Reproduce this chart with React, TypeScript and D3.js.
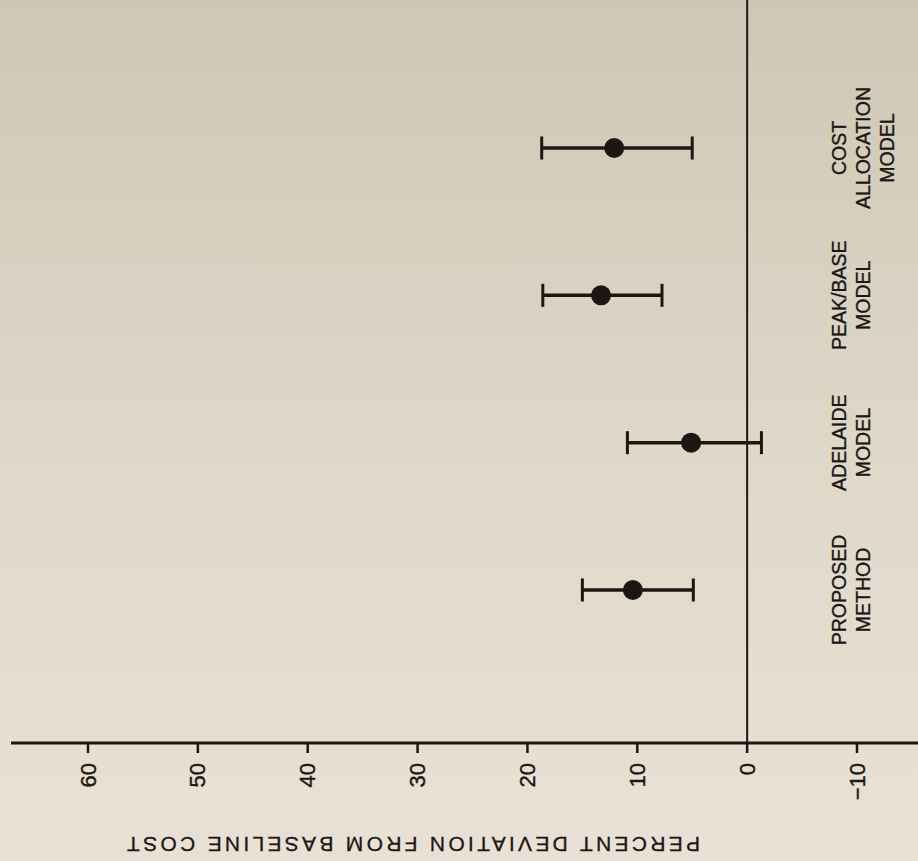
import { useEffect, useRef } from "react";
import * as d3 from "d3";

// categories top to bottom, each label split into lines
const CATEGORIES = ["COST ALLOCATION MODEL", "PEAK/BASE MODEL", "ADELAIDE MODEL", "PROPOSED METHOD"];
const LABEL_LINES = [["COST", "ALLOCATION", "MODEL"], ["PEAK/BASE", "MODEL"], ["ADELAIDE", "MODEL"], ["PROPOSED", "METHOD"]];
const MEANS = [12.1, 13.3, 5.1, 10.4];
const LOWS = [5.0, 7.75, -1.3, 4.9];
const HIGHS = [18.7, 18.6, 10.9, 15.0];
const TICKS = [60, 50, 40, 30, 20, 10, 0, -10];
const TITLE = "PERCENT DEVIATION FROM BASELINE COST";

const W = 918;
const H = 861;
const INK = "#1b1814";
const FONT = "'Liberation Sans', Arial, Helvetica, sans-serif";

export default function App() {
  const svgRef = useRef<SVGSVGElement>(null);

  useEffect(() => {
    if (!svgRef.current) return;
    const svg = d3.select(svgRef.current);
    svg.selectAll("*").remove();

    const axisY = 743;
    const x = d3.scaleLinear().domain([60, -10]).range([88, 857]);
    const y = d3.scalePoint().domain(CATEGORIES).range([148, 590]);

    const defs = svg.append("defs");
    const grad = defs.append("linearGradient").attr("id", "bg").attr("x1", 0).attr("y1", 0).attr("x2", 0).attr("y2", 1);
    grad.append("stop").attr("offset", "0%").attr("stop-color", "#cec7b5");
    grad.append("stop").attr("offset", "55%").attr("stop-color", "#e0d9ca");
    grad.append("stop").attr("offset", "100%").attr("stop-color", "#e9e1d5");
    svg.append("rect").attr("width", W).attr("height", H).attr("fill", "url(#bg)");

    // zero reference line
    svg.append("line")
      .attr("x1", x(0)).attr("x2", x(0))
      .attr("y1", 0).attr("y2", axisY)
      .attr("stroke", INK).attr("stroke-width", 2);

    // axis
    svg.append("line")
      .attr("x1", 11).attr("x2", W)
      .attr("y1", axisY).attr("y2", axisY)
      .attr("stroke", INK).attr("stroke-width", 3);

    svg.selectAll(".tick")
      .data(TICKS)
      .enter()
      .append("line")
      .attr("x1", (d) => x(d)).attr("x2", (d) => x(d))
      .attr("y1", axisY).attr("y2", axisY + 10)
      .attr("stroke", INK).attr("stroke-width", 2.5);

    svg.selectAll(".tick-label")
      .data(TICKS)
      .enter()
      .append("text")
      .attr("transform", (d) => `translate(${x(d)},763) rotate(-90)`)
      .attr("text-anchor", "end")
      .attr("dominant-baseline", "central")
      .attr("font-family", FONT)
      .attr("font-size", "22px")
      .attr("fill", INK)
      .attr("stroke", INK).attr("stroke-width", 0.4)
      .text((d) => (d < 0 ? `\u2212${Math.abs(d)}` : `${d}`));

    svg.append("text")
      .attr("transform", "translate(413.5,837) rotate(180)")
      .attr("text-anchor", "middle")
      .attr("font-family", FONT)
      .attr("font-size", "21px")
      .attr("fill", INK)
      .attr("stroke", INK).attr("stroke-width", 0.3)
      .attr("textLength", 573)
      .attr("lengthAdjust", "spacing")
      .text(TITLE);

    // error bars
    const rows = CATEGORIES.map((c, i) => ({ c, mean: MEANS[i], lo: LOWS[i], hi: HIGHS[i], lines: LABEL_LINES[i] }));
    const g = svg.append("g");
    rows.forEach((d) => {
      const cy = y(d.c) ?? 0;
      g.append("line")
        .attr("x1", x(d.hi)).attr("x2", x(d.lo))
        .attr("y1", cy).attr("y2", cy)
        .attr("stroke", INK).attr("stroke-width", 3.5);
      [d.lo, d.hi].forEach((v) => {
        g.append("line")
          .attr("x1", x(v)).attr("x2", x(v))
          .attr("y1", cy - 11.5).attr("y2", cy + 11.5)
          .attr("stroke", INK).attr("stroke-width", 3);
      });
      g.append("circle")
        .attr("cx", x(d.mean)).attr("cy", cy).attr("r", 10)
        .attr("fill", INK);

      const lab = svg.append("text")
        .attr("transform", `translate(839,${cy}) rotate(-90)`)
        .attr("text-anchor", "middle")
        .attr("font-family", FONT)
        .attr("font-size", "19.5px")
        .attr("fill", INK)
        .attr("stroke", INK).attr("stroke-width", 0.35);
      d.lines.forEach((line, j) => {
        lab.append("tspan")
          .attr("x", 0)
          .attr("y", j * 24)
          .attr("dominant-baseline", "central")
          .text(line);
      });
    });
  }, []);

  return (
    <svg
      ref={svgRef}
      width={W}
      height={H}
      style={{ position: "absolute", left: 0, top: 0, display: "block" }}
      role="img"
      aria-label="Percent deviation from baseline cost by method"
    />
  );
}
